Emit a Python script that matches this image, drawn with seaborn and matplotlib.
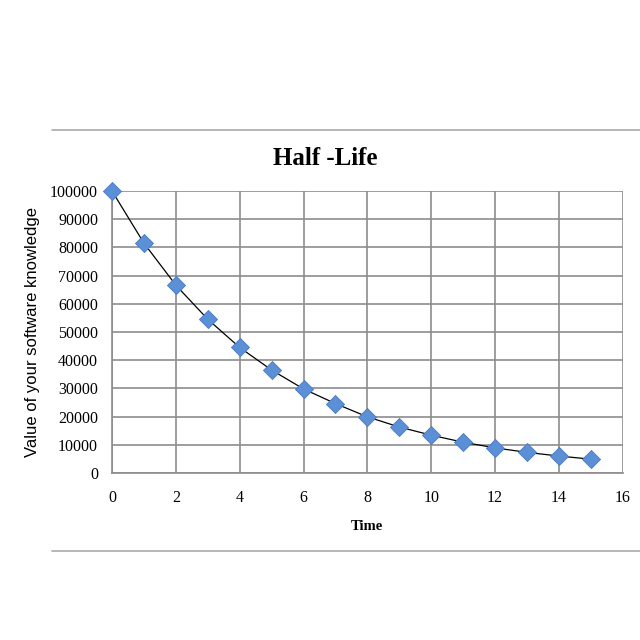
import matplotlib
matplotlib.use('Agg')
import matplotlib.pyplot as plt
from matplotlib.lines import Line2D
import seaborn as sns
import pandas as pd

#%% dados
time = [0, 1, 2, 3, 4, 5, 6, 7, 8, 9, 10, 11, 12, 13, 14, 15]
value = [100000, 81500, 66600, 54500, 44500, 36500, 29800, 24600,
         19900, 16300, 13400, 10900, 8900, 7300, 6000, 4900]
xticks = [0, 2, 4, 6, 8, 10, 12, 14, 16]
yticks = [0, 10000, 20000, 30000, 40000, 50000, 60000, 70000, 80000, 90000, 100000]

df = pd.DataFrame({'Time': time, 'Value': value})

sns.set_style('white')
plt.rcParams['font.family'] = ['Liberation Serif', 'DejaVu Serif']
plt.rcParams['text.color'] = 'black'
plt.rcParams['axes.labelcolor'] = 'black'
plt.rcParams['xtick.color'] = 'black'
plt.rcParams['ytick.color'] = 'black'

fig = plt.figure(figsize=(6.4, 6.4), dpi=100)
ax = fig.add_axes([0.175, 0.261, 0.798, 0.4406])

# linha de tendencia + pontos
sns.lineplot(data=df, x='Time', y='Value', ax=ax, color='black', linewidth=0.9, zorder=3)
sns.scatterplot(data=df, x='Time', y='Value', ax=ax, marker='D', s=85,
                color='#5b8fd6', edgecolor='#4a7cc0', linewidth=0.6, zorder=4,
                clip_on=False)

ax.set_xlim(0, 16)
ax.set_ylim(0, 100000)
ax.set_xticks(xticks)
ax.set_yticks(yticks)
ax.set_xticklabels([str(t) for t in xticks], fontsize=11.5)
ax.set_yticklabels([str(t) for t in yticks], fontsize=11.5)
ax.tick_params(axis='both', direction='out', length=4, width=1)
ax.tick_params(axis='both', color='#888888', labelcolor='black')
ax.tick_params(axis='x', pad=8)
ax.tick_params(axis='y', pad=6)

ax.grid(True, color='#8c8c8c', linewidth=1.2)
for s in ['top', 'right']:
    ax.spines[s].set_visible(False)
for s in ['left', 'bottom']:
    ax.spines[s].set_color('#8c8c8c')
    ax.spines[s].set_linewidth(1.2)

# titulo deslocado para a esquerda como no original
fig.text(0.508, 0.753, 'Half -Life', fontsize=18, fontweight='bold',
         ha='center', va='center', color='black')
ax.set_xlabel('Time', fontsize=10.5, fontweight='bold', labelpad=10)
ax.set_ylabel('Value of your software knowledge', fontsize=12,
              family=['Liberation Sans', 'DejaVu Sans'], labelpad=7)

# linhas horizontais da pagina
fig.add_artist(Line2D([0.081, 1.0], [0.797, 0.797], color='#aaaaaa', linewidth=1.2))
fig.add_artist(Line2D([0.081, 1.0], [0.139, 0.139], color='#aaaaaa', linewidth=1.2))

fig.savefig('out.png', dpi=100)
